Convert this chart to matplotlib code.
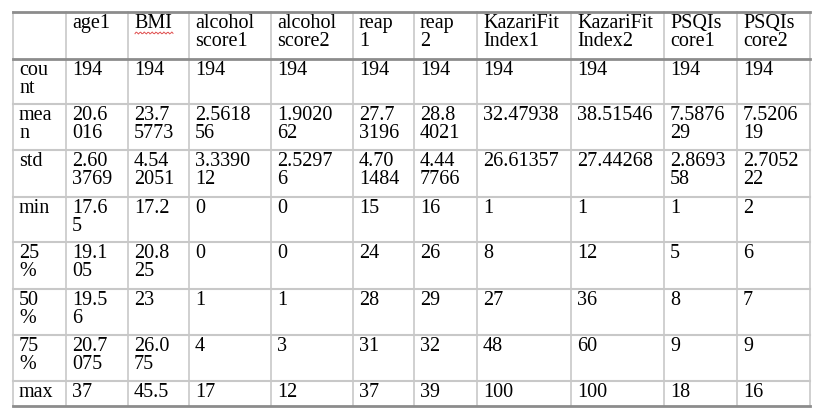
import matplotlib.pyplot as plt
import numpy as np

# table contents (wrapped as in the source document)
headers = ['', 'age1', 'BMI', 'alcohol\nscore1', 'alcohol\nscore2', 'reap\n1', 'reap\n2',
           'KazariFit\nIndex1', 'KazariFit\nIndex2', 'PSQIs\ncore1', 'PSQIs\ncore2']
row_labels = ['cou\nnt', 'mea\nn', 'std', 'min', '25\n%', '50\n%', '75\n%', 'max']
cells = [
    ['194', '194', '194', '194', '194', '194', '194', '194', '194', '194'],
    ['20.6\n016', '23.7\n5773', '2.5618\n56', '1.9020\n62', '27.7\n3196', '28.8\n4021', '32.47938', '38.51546', '7.5876\n29', '7.5206\n19'],
    ['2.60\n3769', '4.54\n2051', '3.3390\n12', '2.5297\n6', '4.70\n1484', '4.44\n7766', '26.61357', '27.44268', '2.8693\n58', '2.7052\n22'],
    ['17.6\n5', '17.2', '0', '0', '15', '16', '1', '1', '1', '2'],
    ['19.1\n05', '20.8\n25', '0', '0', '24', '26', '8', '12', '5', '6'],
    ['19.5\n6', '23', '1', '1', '28', '29', '27', '36', '8', '7'],
    ['20.7\n075', '26.0\n75', '4', '3', '31', '32', '48', '60', '9', '9'],
    ['37', '45.5', '17', '12', '37', '39', '100', '100', '18', '16'],
]

col_x = [13, 66, 128, 189, 271, 353, 414, 477, 571, 664, 737, 810]
row_y = [12, 59, 104, 150, 197, 242, 289, 335, 381, 406]

fig = plt.figure(figsize=(8.22, 4.19), dpi=100)
ax = fig.add_axes([0, 0, 1, 1])
ax.set_xlim(0, 822)
ax.set_ylim(419, 0)
ax.axis('off')

light = '#c8c8c8'
dark = '#8c8c8c'
for x in col_x:
    ax.plot([x, x], [row_y[0], row_y[-1]], color=light, lw=1.2)
for i, y in enumerate(row_y):
    heavy = i in (0, 1, len(row_y) - 1)
    ax.plot([col_x[0], col_x[-1]], [y, y], color=dark if heavy else light, lw=2 if heavy else 1.5)

font = dict(family='Liberation Serif', fontsize=14.5, va='top', ha='left', linespacing=0.95)
rows = [headers] + [[lab] + r for lab, r in zip(row_labels, cells)]
for i, r in enumerate(rows):
    for j, txt in enumerate(r):
        ax.text(col_x[j] + 6, row_y[i] + 2, txt, **font)

# spell-check squiggle under BMI
xs = np.linspace(col_x[2] + 7, col_x[2] + 45, 34)
ax.plot(xs, 33 + 1.0 * np.sin(xs * 1.6), color='#e05050', lw=0.7)

fig.savefig('out.png', dpi=100)
